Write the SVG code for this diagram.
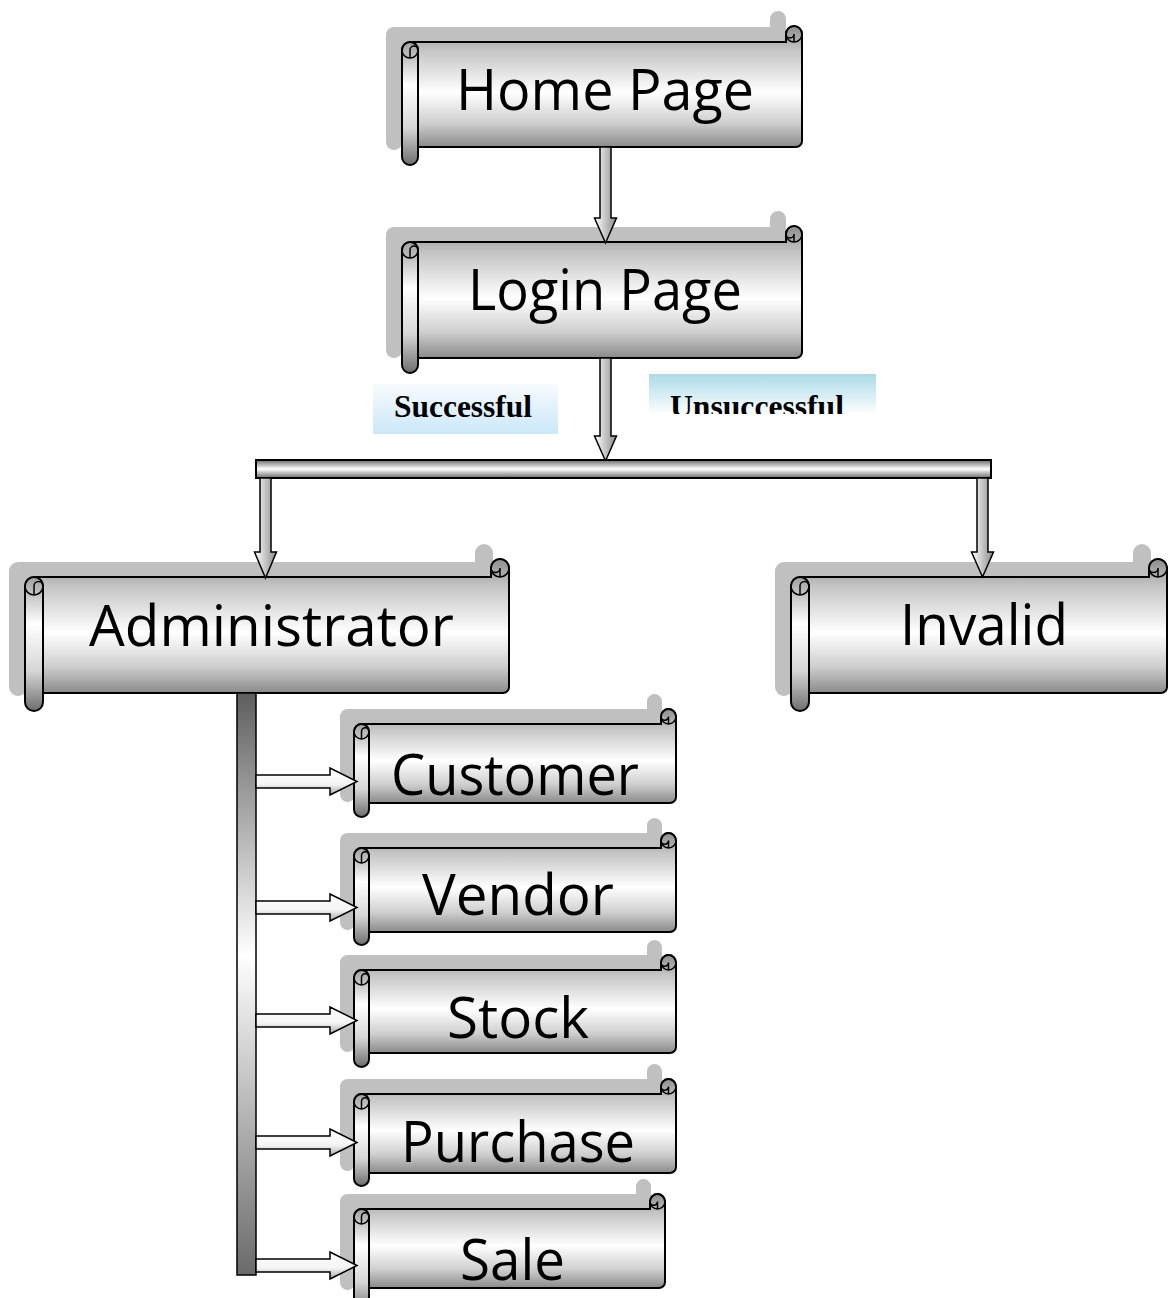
<svg xmlns="http://www.w3.org/2000/svg" width="1171" height="1298" viewBox="0 0 1171 1298">
<defs>
<linearGradient id="gBody" x1="0" y1="0" x2="0" y2="1">
<stop offset="0" stop-color="#8e8e8e"/><stop offset="0.2" stop-color="#c4c4c4"/><stop offset="0.55" stop-color="#ffffff"/><stop offset="0.8" stop-color="#cfcfcf"/><stop offset="1" stop-color="#8a8a8a"/>
</linearGradient>
<linearGradient id="gRoll" x1="0" y1="0" x2="0" y2="1">
<stop offset="0" stop-color="#a0a0a0"/><stop offset="0.35" stop-color="#ffffff"/><stop offset="0.7" stop-color="#d6d6d6"/><stop offset="1" stop-color="#6e6e6e"/>
</linearGradient>
<linearGradient id="gBar" x1="0" y1="0" x2="0" y2="1">
<stop offset="0" stop-color="#6a6a6a"/><stop offset="0.5" stop-color="#ffffff"/><stop offset="1" stop-color="#6a6a6a"/>
</linearGradient>
<linearGradient id="gVBar" x1="0" y1="0" x2="0" y2="1">
<stop offset="0" stop-color="#5e5e5e"/><stop offset="0.45" stop-color="#ffffff"/><stop offset="1" stop-color="#6a6a6a"/>
</linearGradient>
<linearGradient id="gDown" x1="0" y1="0" x2="1" y2="0">
<stop offset="0" stop-color="#ffffff"/><stop offset="1" stop-color="#8a8a8a"/>
</linearGradient>
<linearGradient id="gRight" x1="0" y1="0" x2="0" y2="1">
<stop offset="0" stop-color="#ffffff"/><stop offset="0.6" stop-color="#f4f4f4"/><stop offset="1" stop-color="#a8a8a8"/>
</linearGradient>
<linearGradient id="gSucc" x1="0" y1="0" x2="0" y2="1">
<stop offset="0" stop-color="#f7fbfe"/><stop offset="1" stop-color="#cbe7f8"/>
</linearGradient>
<linearGradient id="gUns" x1="0" y1="0" x2="0" y2="1">
<stop offset="0" stop-color="#acdae6"/><stop offset="1" stop-color="#ffffff"/>
</linearGradient>
<clipPath id="cUns"><rect x="649" y="374" width="227" height="40"/></clipPath>
<style>
.sh{fill:#c0c0c0;stroke:none}
.bd{fill:url(#gBody);stroke:#000;stroke-width:2}
.rl{fill:url(#gRoll);stroke:#000;stroke-width:2}
.cu{fill:none;stroke:#000;stroke-width:1.5}
.t{font-family:"Open Sans","Noto Sans","Liberation Sans",sans-serif;font-size:56px;text-anchor:middle;fill:#000}
.lb{font-family:"Liberation Serif","Times New Roman",serif;font-size:32px;font-weight:bold;text-anchor:middle;fill:#000}
.ad{fill:url(#gDown);stroke:#000;stroke-width:1.5}
.ar{fill:url(#gRight);stroke:#000;stroke-width:1.5}
</style>
</defs>
<rect width="1171" height="1298" fill="#fff"/>

<g id="home">
<g class="sh" transform="translate(-16,-15)">
<path d="M410,42 H786 V34 A8 8 0 0 1 802,34 V141 A6 6 0 0 1 796,147 H410 Z"/>
<path d="M402,50 V157 A8 8 0 0 0 418,157 V50 A8 8 0 0 0 402,50 Z"/>
</g>
<path class="bd" d="M410,42 H786 V34 A8 8 0 0 1 802,34 V141 A6 6 0 0 1 796,147 H410 Z"/>
<circle class="cu" cx="794" cy="34" r="8"/>
<path class="cu" d="M786,34 A4 4 0 0 0 794,34 V42"/>
<path class="rl" d="M402,50 V157 A8 8 0 0 0 418,157 V50 A8 8 0 0 0 402,50 Z"/>
<circle class="cu" cx="410" cy="50" r="8"/>
<path class="cu" d="M410,58 V50 A4 4 0 0 1 418,50"/>
<text class="t" x="605" y="110" textLength="298" lengthAdjust="spacingAndGlyphs">Home Page</text>
</g>

<g id="login">
<g class="sh" transform="translate(-16,-15)">
<path d="M410,242 H786 V234 A8 8 0 0 1 802,234 V352 A6 6 0 0 1 796,358 H410 Z"/>
<path d="M402,250 V365 A8 8 0 0 0 418,365 V250 A8 8 0 0 0 402,250 Z"/>
</g>
<path class="bd" d="M410,242 H786 V234 A8 8 0 0 1 802,234 V352 A6 6 0 0 1 796,358 H410 Z"/>
<circle class="cu" cx="794" cy="234" r="8"/>
<path class="cu" d="M786,234 A4 4 0 0 0 794,234 V242"/>
<path class="rl" d="M402,250 V365 A8 8 0 0 0 418,365 V250 A8 8 0 0 0 402,250 Z"/>
<circle class="cu" cx="410" cy="250" r="8"/>
<path class="cu" d="M410,258 V250 A4 4 0 0 1 418,250"/>
<text class="t" x="605" y="310" textLength="274" lengthAdjust="spacingAndGlyphs">Login Page</text>
</g>

<g id="administrator">
<g class="sh" transform="translate(-16,-15)">
<path d="M34,577 H491 V568 A9 9 0 0 1 509,568 V687 A6 6 0 0 1 503,693 H34 Z"/>
<path d="M25,586 V702 A9 9 0 0 0 43,702 V586 A9 9 0 0 0 25,586 Z"/>
</g>
<path class="bd" d="M34,577 H491 V568 A9 9 0 0 1 509,568 V687 A6 6 0 0 1 503,693 H34 Z"/>
<circle class="cu" cx="500" cy="568" r="9"/>
<path class="cu" d="M491,568 A4.5 4.5 0 0 0 500,568 V577"/>
<path class="rl" d="M25,586 V702 A9 9 0 0 0 43,702 V586 A9 9 0 0 0 25,586 Z"/>
<circle class="cu" cx="34" cy="586" r="9"/>
<path class="cu" d="M34,595 V586 A4.5 4.5 0 0 1 43,586"/>
<text class="t" x="271.5" y="646" textLength="365" lengthAdjust="spacingAndGlyphs">Administrator</text>
</g>

<g id="invalid">
<g class="sh" transform="translate(-16,-15)">
<path d="M800,577 H1149 V568 A9 9 0 0 1 1167,568 V687 A6 6 0 0 1 1161,693 H800 Z"/>
<path d="M791,586 V702 A9 9 0 0 0 809,702 V586 A9 9 0 0 0 791,586 Z"/>
</g>
<path class="bd" d="M800,577 H1149 V568 A9 9 0 0 1 1167,568 V687 A6 6 0 0 1 1161,693 H800 Z"/>
<circle class="cu" cx="1158" cy="568" r="9"/>
<path class="cu" d="M1149,568 A4.5 4.5 0 0 0 1158,568 V577"/>
<path class="rl" d="M791,586 V702 A9 9 0 0 0 809,702 V586 A9 9 0 0 0 791,586 Z"/>
<circle class="cu" cx="800" cy="586" r="9"/>
<path class="cu" d="M800,595 V586 A4.5 4.5 0 0 1 809,586"/>
<text class="t" x="984" y="645" textLength="168" lengthAdjust="spacingAndGlyphs">Invalid</text>
</g>

<g id="customer">
<g class="sh" transform="translate(-14,-15)">
<path d="M361.5,724 H661 V716.5 A7.5 7.5 0 0 1 676,716.5 V797 A6 6 0 0 1 670,803 H361.5 Z"/>
<path d="M354,731.5 V809.5 A7.5 7.5 0 0 0 369,809.5 V731.5 A7.5 7.5 0 0 0 354,731.5 Z"/>
</g>
<path class="bd" d="M361.5,724 H661 V716.5 A7.5 7.5 0 0 1 676,716.5 V797 A6 6 0 0 1 670,803 H361.5 Z"/>
<circle class="cu" cx="668.5" cy="716.5" r="7.5"/>
<path class="cu" d="M661,716.5 A3.75 3.75 0 0 0 668.5,716.5 V724"/>
<path class="rl" d="M354,731.5 V809.5 A7.5 7.5 0 0 0 369,809.5 V731.5 A7.5 7.5 0 0 0 354,731.5 Z"/>
<circle class="cu" cx="361.5" cy="731.5" r="7.5"/>
<path class="cu" d="M361.5,739 V731.5 A3.75 3.75 0 0 1 369,731.5"/>
<text class="t" x="515" y="795" textLength="248" lengthAdjust="spacingAndGlyphs">Customer</text>
</g>

<g id="vendor">
<g class="sh" transform="translate(-14,-15)">
<path d="M361.5,848 H661 V840.5 A7.5 7.5 0 0 1 676,840.5 V926 A6 6 0 0 1 670,932 H361.5 Z"/>
<path d="M354,855.5 V937.5 A7.5 7.5 0 0 0 369,937.5 V855.5 A7.5 7.5 0 0 0 354,855.5 Z"/>
</g>
<path class="bd" d="M361.5,848 H661 V840.5 A7.5 7.5 0 0 1 676,840.5 V926 A6 6 0 0 1 670,932 H361.5 Z"/>
<circle class="cu" cx="668.5" cy="840.5" r="7.5"/>
<path class="cu" d="M661,840.5 A3.75 3.75 0 0 0 668.5,840.5 V848"/>
<path class="rl" d="M354,855.5 V937.5 A7.5 7.5 0 0 0 369,937.5 V855.5 A7.5 7.5 0 0 0 354,855.5 Z"/>
<circle class="cu" cx="361.5" cy="855.5" r="7.5"/>
<path class="cu" d="M361.5,863 V855.5 A3.75 3.75 0 0 1 369,855.5"/>
<text class="t" x="518" y="915" textLength="192" lengthAdjust="spacingAndGlyphs">Vendor</text>
</g>

<g id="stock">
<g class="sh" transform="translate(-14,-15)">
<path d="M361.5,970 H661 V962.5 A7.5 7.5 0 0 1 676,962.5 V1047 A6 6 0 0 1 670,1053 H361.5 Z"/>
<path d="M354,977.5 V1059.5 A7.5 7.5 0 0 0 369,1059.5 V977.5 A7.5 7.5 0 0 0 354,977.5 Z"/>
</g>
<path class="bd" d="M361.5,970 H661 V962.5 A7.5 7.5 0 0 1 676,962.5 V1047 A6 6 0 0 1 670,1053 H361.5 Z"/>
<circle class="cu" cx="668.5" cy="962.5" r="7.5"/>
<path class="cu" d="M661,962.5 A3.75 3.75 0 0 0 668.5,962.5 V970"/>
<path class="rl" d="M354,977.5 V1059.5 A7.5 7.5 0 0 0 369,1059.5 V977.5 A7.5 7.5 0 0 0 354,977.5 Z"/>
<circle class="cu" cx="361.5" cy="977.5" r="7.5"/>
<path class="cu" d="M361.5,985 V977.5 A3.75 3.75 0 0 1 369,977.5"/>
<text class="t" x="518" y="1038" textLength="142" lengthAdjust="spacingAndGlyphs">Stock</text>
</g>

<g id="purchase">
<g class="sh" transform="translate(-14,-15)">
<path d="M361.5,1094 H661 V1086.5 A7.5 7.5 0 0 1 676,1086.5 V1167 A6 6 0 0 1 670,1173 H361.5 Z"/>
<path d="M354,1101.5 V1178.5 A7.5 7.5 0 0 0 369,1178.5 V1101.5 A7.5 7.5 0 0 0 354,1101.5 Z"/>
</g>
<path class="bd" d="M361.5,1094 H661 V1086.5 A7.5 7.5 0 0 1 676,1086.5 V1167 A6 6 0 0 1 670,1173 H361.5 Z"/>
<circle class="cu" cx="668.5" cy="1086.5" r="7.5"/>
<path class="cu" d="M661,1086.5 A3.75 3.75 0 0 0 668.5,1086.5 V1094"/>
<path class="rl" d="M354,1101.5 V1178.5 A7.5 7.5 0 0 0 369,1178.5 V1101.5 A7.5 7.5 0 0 0 354,1101.5 Z"/>
<circle class="cu" cx="361.5" cy="1101.5" r="7.5"/>
<path class="cu" d="M361.5,1109 V1101.5 A3.75 3.75 0 0 1 369,1101.5"/>
<text class="t" x="518" y="1162" textLength="234" lengthAdjust="spacingAndGlyphs">Purchase</text>
</g>

<g id="sale">
<g class="sh" transform="translate(-14,-15)">
<path d="M361.5,1209 H650 V1201.5 A7.5 7.5 0 0 1 665,1201.5 V1282 A6 6 0 0 1 659,1288 H361.5 Z"/>
<path d="M354,1216.5 V1297.5 A7.5 7.5 0 0 0 369,1297.5 V1216.5 A7.5 7.5 0 0 0 354,1216.5 Z"/>
</g>
<path class="bd" d="M361.5,1209 H650 V1201.5 A7.5 7.5 0 0 1 665,1201.5 V1282 A6 6 0 0 1 659,1288 H361.5 Z"/>
<circle class="cu" cx="657.5" cy="1201.5" r="7.5"/>
<path class="cu" d="M650,1201.5 A3.75 3.75 0 0 0 657.5,1201.5 V1209"/>
<path class="rl" d="M354,1216.5 V1305.5 A7.5 7.5 0 0 0 369,1305.5 V1216.5 A7.5 7.5 0 0 0 354,1216.5 Z"/>
<circle class="cu" cx="361.5" cy="1216.5" r="7.5"/>
<path class="cu" d="M361.5,1224 V1216.5 A3.75 3.75 0 0 1 369,1216.5"/>
<text class="t" x="512.5" y="1280" textLength="105" lengthAdjust="spacingAndGlyphs">Sale</text>
</g>

<g id="connectors">
<path class="ad" d="M600,147 V218 H594.5 L605.5,243 L616.5,218 H611 V147 Z"/>
<path class="ad" d="M600,358 V436 H594.5 L605.5,461 L616.5,436 H611 V358 Z"/>
<rect x="256" y="460" width="735" height="18" fill="url(#gBar)" stroke="#000" stroke-width="2"/>
<path class="ad" d="M260,478 V552 H254.5 L265.5,578 L276.5,552 H271 V478 Z"/>
<path class="ad" d="M977,478 V552 H971.5 L982.5,577 L993.5,552 H988 V478 Z"/>
<rect x="237" y="693" width="19" height="582" fill="url(#gVBar)" stroke="#000" stroke-width="1.5"/>
<path class="ar" d="M256,775 H330 V768 L357,781.5 L330,795 V788 H256 Z"/>
<path class="ar" d="M256,901 H330 V894 L357,907.5 L330,921 V914 H256 Z"/>
<path class="ar" d="M256,1014 H330 V1007 L357,1020.5 L330,1034 V1027 H256 Z"/>
<path class="ar" d="M256,1136 H330 V1129 L357,1142.5 L330,1156 V1149 H256 Z"/>
<path class="ar" d="M256,1259 H330 V1252 L357,1265.5 L330,1279 V1272 H256 Z"/>
</g>

<g id="label-successful">
<rect x="373" y="384" width="185" height="50" fill="url(#gSucc)"/>
<text class="lb" x="463" y="417" textLength="138" lengthAdjust="spacingAndGlyphs">Successful</text>
</g>
<g id="label-unsuccessful">
<rect x="649" y="374" width="227" height="41" fill="url(#gUns)"/>
<text class="lb" x="757" y="417" textLength="174" lengthAdjust="spacingAndGlyphs" clip-path="url(#cUns)">Unsuccessful</text>
</g>
</svg>
